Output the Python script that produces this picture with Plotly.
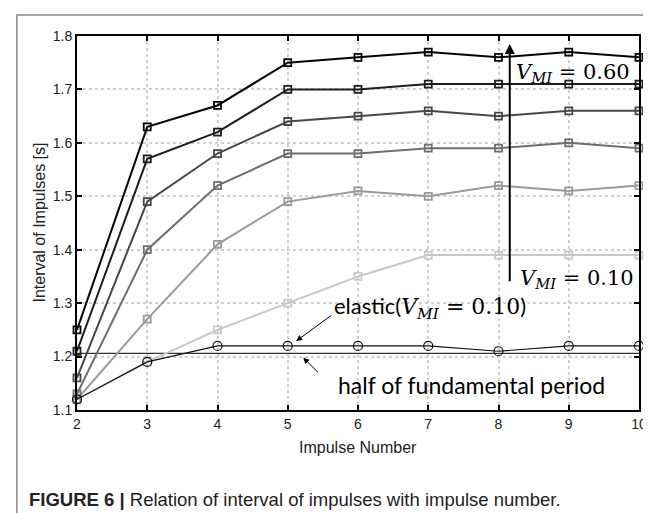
import plotly.graph_objects as go

impulse_number = [2, 3, 4, 5, 6, 7, 8, 9, 10]

v060 = [1.25, 1.63, 1.67, 1.75, 1.76, 1.77, 1.76, 1.77, 1.76]
v050 = [1.21, 1.57, 1.62, 1.70, 1.70, 1.71, 1.71, 1.71, 1.71]
v040 = [1.16, 1.49, 1.58, 1.64, 1.65, 1.66, 1.65, 1.66, 1.66]
v030 = [1.13, 1.40, 1.52, 1.58, 1.58, 1.59, 1.59, 1.60, 1.59]
v020 = [1.12, 1.27, 1.41, 1.49, 1.51, 1.50, 1.52, 1.51, 1.52]
v010 = [1.12, 1.19, 1.25, 1.30, 1.35, 1.39, 1.39, 1.39, 1.39]
elastic = [1.12, 1.19, 1.22, 1.22, 1.22, 1.22, 1.21, 1.22, 1.22]
half_period = 1.206

series = [
    ("V_MI=0.10", v010, "#c8c8c8"),
    ("V_MI=0.20", v020, "#9a9a9a"),
    ("V_MI=0.30", v030, "#6e6e6e"),
    ("V_MI=0.40", v040, "#474747"),
    ("V_MI=0.50", v050, "#1e1e1e"),
    ("V_MI=0.60", v060, "#050505"),
]

fig = go.Figure()

# half of fundamental period line
fig.add_trace(go.Scatter(x=[impulse_number[0], impulse_number[-1]], y=[half_period, half_period],
                         mode="lines", line=dict(color="#333333", width=1.2),
                         showlegend=False, hoverinfo="skip"))

for name, vals, col in series:
    fig.add_trace(go.Scatter(x=impulse_number, y=vals, mode="lines+markers", name=name,
                             line=dict(color=col, width=2),
                             marker=dict(symbol="square-open", size=7, color=col,
                                         line=dict(width=1.8, color=col)),
                             cliponaxis=False, showlegend=False))

fig.add_trace(go.Scatter(x=impulse_number, y=elastic, mode="lines+markers", name="elastic",
                         line=dict(color="#111111", width=1.2),
                         marker=dict(symbol="circle-open", size=9, color="#111111",
                                     line=dict(width=1.2, color="#111111")),
                         cliponaxis=False, showlegend=False))

axis_common = dict(showline=True, linecolor="black", linewidth=2, mirror="ticks",
                   ticks="inside", ticklen=5, tickwidth=2, tickcolor="black",
                   showgrid=True, gridcolor="#cfcfcf", gridwidth=1.5, griddash="dot",
                   zeroline=False,
                   tickfont=dict(family="Liberation Sans, Arial, sans-serif", size=14, color="#222"))

fig.update_xaxes(range=[2, 10], tickvals=impulse_number, **axis_common)
fig.update_yaxes(range=[1.1, 1.8], dtick=0.1, tickformat=".1f", **axis_common)

serif = "DejaVu Serif, Liberation Serif, serif"
sans = "Lato, Noto Sans, sans-serif"

annotations = [
    # axis titles
    dict(text="Impulse Number", xref="paper", yref="paper", x=0.5, y=-0.1016,
         xanchor="center", yanchor="middle", showarrow=False,
         font=dict(family="Liberation Sans, Arial, sans-serif", size=16, color="#222")),
    dict(text="Interval of Impulses [s]", xref="paper", yref="paper", x=-0.0684, y=0.5,
         xanchor="center", yanchor="middle", textangle=-90, showarrow=False,
         font=dict(family="Liberation Sans, Arial, sans-serif", size=16, color="#222")),
    # caption
    dict(text="<b>FIGURE 6 |</b> Relation of interval of impulses with impulse number.",
         xref="paper", yref="paper", x=-0.0895, y=-0.2406, xanchor="left", yanchor="middle",
         showarrow=False, font=dict(family="Liberation Sans, Arial, sans-serif", size=18.5, color="#222")),
    # vertical arrow
    dict(x=8.16, y=1.785, ax=8.16, ay=1.338, xref="x", yref="y", axref="x", ayref="y",
         text="", showarrow=True, arrowhead=2, arrowsize=1, arrowwidth=2, arrowcolor="black"),
    dict(text="<i>V</i><sub><i>MI</i></sub> = 0.60", xref="x", yref="y", x=8.22, y=1.731,
         xanchor="left", yanchor="middle", showarrow=False,
         font=dict(family=serif, size=21, color="black")),
    dict(text="<i>V</i><sub><i>MI</i></sub> = 0.10", xref="x", yref="y", x=8.28, y=1.345,
         xanchor="left", yanchor="middle", showarrow=False,
         font=dict(family=serif, size=21, color="black")),
    # elastic label
    dict(text="elastic(<span style=\"font-family:DejaVu Serif\"><i>V</i><sub><i>MI</i></sub> = 0.10</span>)",
         xref="x", yref="y", x=8.42, y=1.292, xanchor="right", yanchor="middle", showarrow=False,
         font=dict(family=sans, size=22, color="black")),
    dict(x=5.12, y=1.229, ax=5.64, ay=1.279, xref="x", yref="y", axref="x", ayref="y",
         text="", showarrow=True, arrowhead=2, arrowsize=1.2, arrowwidth=1, arrowcolor="black"),
    # half period label
    dict(text="half of fundamental period", xref="x", yref="y", x=5.68, y=1.147,
         xanchor="left", yanchor="middle", showarrow=False,
         font=dict(family=sans, size=23, color="black")),
    dict(x=5.22, y=1.198, ax=5.45, ay=1.168, xref="x", yref="y", axref="x", ayref="y",
         text="", showarrow=True, arrowhead=2, arrowsize=1.2, arrowwidth=1, arrowcolor="black"),
]

shapes = [
    dict(type="rect", xref="paper", yref="paper", x0=-0.107, x1=1.3, y0=-0.5, y1=1.056,
         line=dict(color="#8a8a8a", width=1.5), fillcolor="rgba(0,0,0,0)", layer="below"),
]

fig.update_layout(width=651, height=513, margin=dict(l=69, r=12, t=28, b=111),
                  paper_bgcolor="white", plot_bgcolor="white",
                  annotations=annotations, shapes=shapes, showlegend=False)

fig.write_html("out.html")
